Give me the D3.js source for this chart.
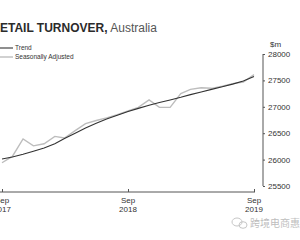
<!DOCTYPE html>
<html>
<head>
<meta charset="utf-8">
<script src="https://cdn.jsdelivr.net/npm/d3@7"></script>
<style>
  body { margin: 0; background: #fff; }
  svg { display: block; font-family: "Liberation Sans", Arial, sans-serif; }
</style>
</head>
<body>
<svg id="chart" width="300" height="240"></svg>
<script>
// monthly data, Sep 2017 - Sep 2019 ($m)
var months = ['2017-09','2017-10','2017-11','2017-12','2018-01','2018-02','2018-03','2018-04',
  '2018-05','2018-06','2018-07','2018-08','2018-09','2018-10','2018-11','2018-12','2019-01',
  '2019-02','2019-03','2019-04','2019-05','2019-06','2019-07','2019-08','2019-09'];
var trendValues = [26010, 26050, 26100, 26160, 26220, 26300, 26400, 26500, 26600, 26690,
  26770, 26840, 26910, 26970, 27030, 27080, 27130, 27180, 27230, 27280, 27330, 27380,
  27430, 27490, 27575];
var seasonalValues = [25940, 26060, 26390, 26260, 26300, 26440, 26410, 26550, 26680, 26740,
  26790, 26850, 26920, 26990, 27130, 26990, 26990, 27250, 27330, 27360, 27350, 27390,
  27440, 27470, 27610];
var yTicks = [25500, 26000, 26500, 27000, 27500, 28000];
var xTicks = ['2017-09', '2018-09', '2019-09'];

var svg = d3.select('#chart');
var parse = d3.timeParse('%Y-%m');

var x = d3.scaleTime()
  .domain([parse('2017-09'), parse('2019-09')])
  .range([2, 254]);
var y = d3.scaleLinear()
  .domain([25500, 28000])
  .range([186, 54]);

// title (the first letter runs off the left edge)
var title = svg.append('text')
  .attr('x', -8.7)
  .attr('y', 31.5)
  .attr('font-size', 12);
title.append('tspan').attr('font-weight', 'bold').attr('fill', '#2b2b2b').text('RETAIL TURNOVER,');
title.append('tspan').attr('fill', '#555').text(' Australia');

// legend
var legend = [
  { label: 'Trend', color: '#333', w: 1.1 },
  { label: 'Seasonally Adjusted', color: '#bdbdbd', w: 1.4 }
];
legend.forEach(function (d, i) {
  var ly = 48 + i * 9;
  svg.append('line')
    .attr('x1', 0).attr('x2', 13)
    .attr('y1', ly).attr('y2', ly)
    .attr('stroke', d.color).attr('stroke-width', d.w);
  svg.append('text')
    .attr('x', 15).attr('y', ly)
    .attr('dy', '0.35em')
    .attr('font-size', 6.5)
    .attr('fill', '#333')
    .text(d.label);
});

// y axis on the right
var yAxis = svg.append('g')
  .attr('transform', 'translate(263,0)')
  .call(d3.axisRight(y).tickValues(yTicks).tickSize(2).tickPadding(3).tickFormat(d3.format('d')));
yAxis.select('.domain').attr('stroke', '#555').attr('d', 'M0,54V186');
yAxis.selectAll('.tick line').attr('stroke', '#555');
yAxis.selectAll('text').attr('font-size', 8).attr('fill', '#333')
  .attr('font-family', '"Liberation Sans", Arial, sans-serif');

svg.append('text')
  .attr('x', 270).attr('y', 44)
  .attr('dy', '0.35em')
  .attr('font-size', 8)
  .attr('fill', '#333')
  .text('$m');

// x axis
var xAxis = svg.append('g')
  .attr('transform', 'translate(0,192)')
  .call(d3.axisTop(x).tickValues(xTicks.map(parse)).tickSize(3).tickFormat(''));
xAxis.select('.domain').attr('stroke', '#555').attr('d', 'M0,0H255');
xAxis.selectAll('.tick line').attr('stroke', '#555');

xTicks.forEach(function (t) {
  var d = parse(t);
  var lab = svg.append('text')
    .attr('x', x(d))
    .attr('text-anchor', 'middle')
    .attr('font-size', 8)
    .attr('fill', '#333');
  lab.append('tspan').attr('x', x(d)).attr('y', 203).text(d3.timeFormat('%b')(d));
  lab.append('tspan').attr('x', x(d)).attr('y', 212).text(d3.timeFormat('%Y')(d));
});

// lines
var line = d3.line()
  .x(function (d) { return x(d.date); })
  .y(function (d) { return y(d.value); });

var saData = months.map(function (m, i) { return { date: parse(m), value: seasonalValues[i] }; });
var trendData = months.map(function (m, i) { return { date: parse(m), value: trendValues[i] }; });

svg.append('path')
  .datum(saData)
  .attr('d', line)
  .attr('fill', 'none')
  .attr('stroke', '#bdbdbd')
  .attr('stroke-width', 1.4);

svg.append('path')
  .datum(trendData)
  .attr('d', line)
  .attr('fill', 'none')
  .attr('stroke', '#333')
  .attr('stroke-width', 1.1);

// watermark
var wm = svg.append('g').attr('opacity', 0.55);
wm.append('ellipse').attr('cx', 237).attr('cy', 222).attr('rx', 5).attr('ry', 4)
  .attr('fill', 'none').attr('stroke', '#999').attr('stroke-width', 1);
wm.append('ellipse').attr('cx', 243).attr('cy', 225).attr('rx', 4).attr('ry', 3.3)
  .attr('fill', 'none').attr('stroke', '#999').attr('stroke-width', 1);
wm.append('text')
  .attr('x', 250).attr('y', 223)
  .attr('dy', '0.35em')
  .attr('font-size', 10)
  .attr('fill', '#888')
  .attr('font-family', '"Noto Sans CJK SC", sans-serif')
  .text('跨境电商惠');
</script>
</body>
</html>
